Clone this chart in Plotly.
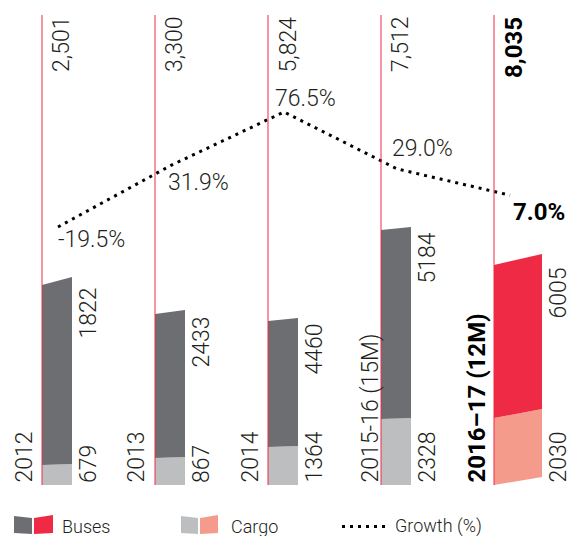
import plotly.graph_objects as go

# ---------------- data ----------------
years = ["2012", "2013", "2014", "2015-16 (15M)", "2016–17 (12M)"]
buses = [1822, 2433, 4460, 5184, 6005]
cargo = [679, 867, 1364, 2328, 2030]
growth = [-19.5, 31.9, 76.5, 29.0, 7.0]
# segment lengths as drawn in the infographic (its bars are not to scale)
cargo_drawn = [20, 27, 38, 66, 67]
buses_drawn = [180, 144, 126, 189, 153]

totals = [b + c for b, c in zip(buses, cargo)]

# ---------------- style ----------------
W, H = 580, 536
STEP = 113.0          # px between category lines
X0 = 42.0             # px of first category line
BASE = 485.0          # px of bar baseline
LINE_TOP = 470        # red guide line length above baseline (y2 units = px)
G_ZERO_PX = 203.6     # px where growth 0% sits
G_PX_PER = 1.198      # px per growth percent
bar_w_px = [30, 30, 30, 30, 48]
skew_bottom = [0, 0, 0, 0, 8]
skew_mid = [1, 1, 1, 1, 9]
skew_top = [8, 4, 3, 3, 11]
GROWTH_DX = 16        # px offset of growth points from the category line

GREY_D, GREY_L = "#6d6e71", "#bcbec0"
RED, SALMON = "#ee2a45", "#f59b8c"
TXT = "#231f20"
FONT = "Roboto, 'DejaVu Sans', sans-serif"

n = len(years)
last = n - 1
u = lambda px: px / STEP  # px -> x units

fig = go.Figure()

# bars (skewed stacked segments)
for i in range(n):
    x0, x1 = i, i + u(bar_w_px[i])
    c_l = cargo_drawn[i]
    c_r = cargo_drawn[i] + skew_mid[i]
    t_l = cargo_drawn[i] + buses_drawn[i]
    t_r = t_l + skew_top[i]
    dark = RED if i == last else GREY_D
    light = SALMON if i == last else GREY_L
    fig.add_trace(go.Scatter(
        x=[x0, x1, x1, x0, x0], y=[0, skew_bottom[i], c_r, c_l, 0],
        fill="toself", fillcolor=light, mode="lines", line=dict(width=0),
        yaxis="y2", hoverinfo="skip"))
    fig.add_trace(go.Scatter(
        x=[x0, x1, x1, x0, x0], y=[c_l, c_r, t_r, t_l, c_l],
        fill="toself", fillcolor=dark, mode="lines", line=dict(width=0),
        yaxis="y2", hoverinfo="skip"))

# red guide lines
lx, ly = [], []
for i in range(n):
    lx += [i, i, None]
    ly += [0, LINE_TOP, None]
fig.add_trace(go.Scatter(x=lx, y=ly, mode="lines", line=dict(color=RED, width=1),
                         yaxis="y2", hoverinfo="skip"))

# growth line
gx = [i + u(GROWTH_DX) for i in range(n)]
fig.add_trace(go.Scatter(x=gx, y=growth, mode="lines",
                         line=dict(color="black", width=3, dash="3px,5px"),
                         hoverinfo="skip"))

ann = []

def label(text, x, y, yref, xanchor, yanchor, xshift=0, yshift=0, angle=0,
          bold=False, size=23):
    ann.append(dict(text=text, x=x, y=y, xref="x", yref=yref, showarrow=False,
                    xanchor=xanchor, yanchor=yanchor, xshift=xshift, yshift=yshift,
                    textangle=angle,
                    font=dict(family=FONT, size=size, color="black" if bold else TXT,
                              weight=700 if bold else 300)))

year_dx = [-18, -19, -18, -11, -18]
for i in range(n):
    b = i == last
    # year labels
    label(years[i], i, 0, "y2", "center", "bottom", xshift=year_dx[i], angle=-90,
          bold=b, size=24 if b else 23)
    # totals
    label(f"{totals[i]:,}", i, LINE_TOP, "y2", "center", "top", xshift=19.5,
          angle=-90, bold=b, size=24 if b else 23)
    # bus values
    xr = i + u(bar_w_px[i])
    label(str(buses[i]), xr, cargo_drawn[i] + buses_drawn[i], "y2", "center", "top",
          xshift=16, yshift=-1, angle=-90)
    # cargo values
    label(str(cargo[i]), xr, 0, "y2", "center", "bottom", xshift=16, angle=-90)

# growth labels
g_style = [("left", "top", -2, 3), ("left", "top", -5, -2), ("left", "bottom", -11, -2.5),
           ("left", "bottom", -7, 4.4), ("left", "top", 1, -1)]
for i in range(n):
    xa, ya, xs, ys = g_style[i]
    b = i == last
    label(f"{growth[i]:.1f}%", gx[i], growth[i], "y", xa, ya, xshift=xs, yshift=ys,
          bold=b, size=24 if b else 23)

# ---------------- legend (drawn) ----------------
shapes = []
def poly(pts, color):
    path = "M " + " L ".join(f"{x/W:.5f},{1 - y/H:.5f}" for x, y in pts) + " Z"
    shapes.append(dict(type="path", xref="paper", yref="paper", path=path,
                       fillcolor=color, line=dict(width=0)))

poly([(14, 516), (32, 518), (32, 534), (14, 533)], GREY_D)
poly([(34, 518), (53, 515), (53, 533), (34, 534)], RED)
poly([(181, 516), (198, 518), (198, 534), (181, 533)], GREY_L)
poly([(200, 518), (218, 515), (218, 533), (200, 534)], SALMON)
shapes.append(dict(type="line", xref="paper", yref="paper",
                   x0=342 / W, x1=388 / W, y0=1 - 526.5 / H, y1=1 - 526.5 / H,
                   line=dict(color="black", width=3, dash="3px,5px")))

for txt, px in [("Buses", 60), ("Cargo", 229), ("Growth (%)", 393)]:
    ann.append(dict(text=txt, x=px / W, y=1 - 526 / H, xref="paper", yref="paper",
                    showarrow=False, xanchor="left", yanchor="middle",
                    font=dict(family=FONT, size=18, color=TXT, weight=300)))

fig.update_layout(
    width=W, height=H,
    margin=dict(l=0, r=0, t=0, b=0, pad=0),
    paper_bgcolor="white", plot_bgcolor="white",
    showlegend=False,
    xaxis=dict(range=[-u(X0), u(W - X0)], visible=False, fixedrange=True),
    yaxis=dict(range=[-(H - G_ZERO_PX) / G_PX_PER, G_ZERO_PX / G_PX_PER],
               visible=False, fixedrange=True),
    yaxis2=dict(range=[-(H - BASE), BASE], overlaying="y", visible=False,
                fixedrange=True),
    annotations=ann, shapes=shapes,
)

fig.write_html("out.html", config={"displayModeBar": False},
               post_script="document.body.style.margin='0';document.body.style.overflow='hidden';")
